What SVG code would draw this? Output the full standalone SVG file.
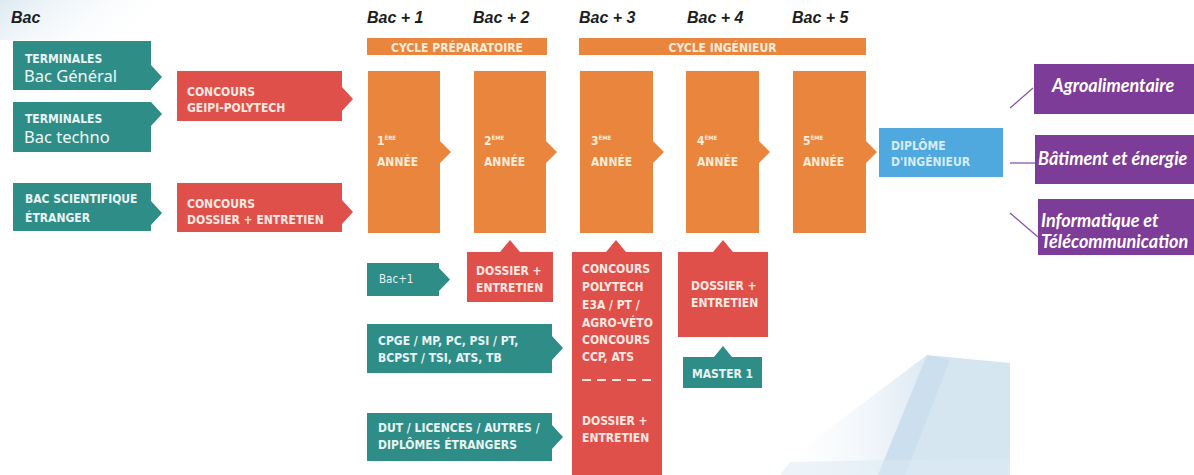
<svg xmlns="http://www.w3.org/2000/svg" width="1194" height="475" viewBox="0 0 1194 475">
<style>
.bg{fill:#ffffff}
.teal{fill:#2f8d88}
.red{fill:#e0504a}
.orange{fill:#e9853d}
.blue{fill:#4fa9df}
.purple{fill:#7d3c98}
.t{font-family:"DejaVu Sans Condensed","DejaVu Sans",sans-serif;font-weight:bold;font-size:12px;font-stretch:condensed}
.tw{fill:#e8f4f3}
.tr{fill:#fde8e2}
.to{fill:#fdecd8}
.tb{fill:#d6ecfa}
.big{font-family:"Noto Sans","Open Sans",sans-serif;font-weight:normal;font-size:16.5px;fill:#eef7f6}
.reg{font-family:"DejaVu Sans Condensed","DejaVu Sans",sans-serif;font-weight:normal;font-size:11.5px;font-stretch:condensed;fill:#e8f4f3}
.head{font-family:"Liberation Sans",Arial,sans-serif;font-weight:bold;font-style:italic;font-size:16px;fill:#1e1e1e}
.sp{font-family:"Lato","Open Sans",sans-serif;font-weight:bold;font-style:italic;font-size:18px;fill:#ffffff}
.sup{font-size:6px}
.conn{stroke:#8c55aa;stroke-width:1.3;fill:none}
</style>
<defs>
<linearGradient id="fadeTL" x1="0" y1="0" x2="1" y2="0.3">
<stop offset="0" stop-color="#d9e7f1" stop-opacity="0.9"/>
<stop offset="1" stop-color="#ffffff" stop-opacity="0"/>
</linearGradient>
<linearGradient id="fadeBR" x1="0" y1="0" x2="1" y2="0">
<stop offset="0" stop-color="#ffffff" stop-opacity="0"/>
<stop offset="1" stop-color="#dce9f3" stop-opacity="1"/>
</linearGradient>
</defs>
<rect class="bg" x="0" y="0" width="1194" height="475"/>
<g id="decor">
<polygon points="0,0 175,0 120,40 0,40" fill="url(#fadeTL)"/>
<polygon points="927,355 767,475 880,475" fill="url(#fadeBR)"/>
<polygon points="927,355 1010,363 1010,475 878,475" fill="#d6e6f1"/>
<polygon points="927,355 950,360 905,475 878,475" fill="#c7dcec" opacity="0.7"/>
<polygon points="790,462 1010,458 1010,475 780,475" fill="#dbe9f3" opacity="0.5"/>
</g>
<g id="headers">
<text class="head" x="11" y="23">Bac</text>
<text class="head" x="367" y="23">Bac + 1</text>
<text class="head" x="473" y="23">Bac + 2</text>
<text class="head" x="579" y="23">Bac + 3</text>
<text class="head" x="687" y="23">Bac + 4</text>
<text class="head" x="792" y="23">Bac + 5</text>
</g>
<g id="cycle-preparatoire">
<rect class="orange" x="367" y="38" width="180" height="17"/>
<text class="t to" x="457" y="51.5" text-anchor="middle" font-size="13">CYCLE PRÉPARATOIRE</text>
</g>
<g id="cycle-ingenieur">
<rect class="orange" x="579" y="38" width="287" height="17"/>
<text class="t to" x="722.5" y="51.5" text-anchor="middle" font-size="13">CYCLE INGÉNIEUR</text>
</g>
<g id="terminales-general">
<path class="teal" d="M13,41 H151 V65 L162,77 L151,89 V90 H13 Z"/>
<text class="t tw" x="25" y="63" font-size="11">TERMINALES</text>
<text class="big" x="24" y="82">Bac Général</text>
</g>
<g id="terminales-techno">
<path class="teal" d="M13,102 H151 L162,114 L151,126 V152 H13 Z"/>
<text class="t tw" x="25" y="123" font-size="11">TERMINALES</text>
<text class="big" x="24" y="143">Bac techno</text>
</g>
<g id="bac-scientifique">
<path class="teal" d="M13,183 H151 V201 L162,213 L151,225 V231 H13 Z"/>
<text class="t tw" x="25" y="203" font-size="11">BAC SCIENTIFIQUE</text>
<text class="t tw" x="25" y="222" font-size="11">ÉTRANGER</text>
</g>
<g id="concours-geipi">
<path class="red" d="M177,71 H342 V87 L353,99 L342,111 V121 H177 Z"/>
<text class="t tr" x="187" y="96">CONCOURS</text>
<text class="t tr" x="187" y="112">GEIPI-POLYTECH</text>
</g>
<g id="concours-dossier">
<path class="red" d="M177,183 H342 V200 L353,212 L342,224 V232 H177 Z"/>
<text class="t tr" x="187" y="208">CONCOURS</text>
<text class="t tr" x="187" y="224">DOSSIER + ENTRETIEN</text>
</g>
<g id="annee-1">
<path class="orange" d="M368,71 H440 V141 L451,152 L440,163 V233 H368 Z"/>
<text class="t to" x="377" y="145">1<tspan class="sup" dy="-5">ÈRE</tspan></text>
<text class="t to" x="377" y="166">ANNÉE</text>
</g>
<g id="annee-2">
<path class="orange" d="M474,71 H546 V141 L557,152 L546,163 V233 H474 Z"/>
<text class="t to" x="484" y="145">2<tspan class="sup" dy="-5">ÈME</tspan></text>
<text class="t to" x="484" y="166">ANNÉE</text>
</g>
<g id="annee-3">
<path class="orange" d="M580,71 H653 V141 L664,152 L653,163 V233 H580 Z"/>
<text class="t to" x="591" y="145">3<tspan class="sup" dy="-5">ÈME</tspan></text>
<text class="t to" x="591" y="166">ANNÉE</text>
</g>
<g id="annee-4">
<path class="orange" d="M686,71 H759 V141 L770,152 L759,163 V233 H686 Z"/>
<text class="t to" x="697" y="145">4<tspan class="sup" dy="-5">ÈME</tspan></text>
<text class="t to" x="697" y="166">ANNÉE</text>
</g>
<g id="annee-5">
<path class="orange" d="M793,71 H866 V141 L877,152 L866,163 V233 H793 Z"/>
<text class="t to" x="803" y="145">5<tspan class="sup" dy="-5">ÈME</tspan></text>
<text class="t to" x="803" y="166">ANNÉE</text>
</g>
<g id="diplome">
<rect class="blue" x="879" y="128" width="124" height="49"/>
<text class="t tb" x="891" y="150" font-size="11">DIPLÔME</text>
<text class="t tb" x="891" y="166" font-size="11">D'INGÉNIEUR</text>
</g>
<g id="bac1">
<path class="teal" d="M367,263 H439 V268 L450,279.5 L439,291 V296 H367 Z"/>
<text class="reg" x="379" y="283">Bac+1</text>
</g>
<g id="cpge">
<path class="teal" d="M367,324 H552 V336 L563,348 L552,360 V373 H367 Z"/>
<text class="t tw" x="378" y="345">CPGE / MP, PC, PSI / PT,</text>
<text class="t tw" x="378" y="362">BCPST / TSI, ATS, TB</text>
</g>
<g id="dut">
<path class="teal" d="M367,413 H552 V425 L563,437 L552,449 V461 H367 Z"/>
<text class="t tw" x="378" y="432">DUT / LICENCES / AUTRES /</text>
<text class="t tw" x="378" y="449">DIPLÔMES ÉTRANGERS</text>
</g>
<g id="dossier-bac2">
<path class="red" d="M467,252 H500 L510,240 L520,252 H553 V302 H467 Z"/>
<text class="t tr" x="476" y="275">DOSSIER +</text>
<text class="t tr" x="476" y="292">ENTRETIEN</text>
</g>
<g id="concours-bac3">
<path class="red" d="M572,252 H606 L616,240 L626,252 H662 V475 H572 Z"/>
<text class="t tr" x="582" y="273">CONCOURS</text>
<text class="t tr" x="582" y="291">POLYTECH</text>
<text class="t tr" x="582" y="309">E3A / PT /</text>
<text class="t tr" x="582" y="327">AGRO-VÉTO</text>
<text class="t tr" x="582" y="344">CONCOURS</text>
<text class="t tr" x="582" y="361">CCP, ATS</text>
<line x1="582" y1="380" x2="654" y2="380" stroke="#fde8e2" stroke-width="2" stroke-dasharray="9,6"/>
<text class="t tr" x="582" y="425">DOSSIER +</text>
<text class="t tr" x="582" y="442">ENTRETIEN</text>
</g>
<g id="dossier-bac4">
<path class="red" d="M678,252 H713 L723,240 L733,252 H768 V337 H678 Z"/>
<text class="t tr" x="691" y="290">DOSSIER +</text>
<text class="t tr" x="691" y="307">ENTRETIEN</text>
</g>
<g id="master1">
<path class="teal" d="M683,357 H714 L723,346 L732,357 H762 V388 H683 Z"/>
<text class="t tw" x="722.5" y="378" text-anchor="middle">MASTER 1</text>
</g>
<g id="agroalimentaire">
<rect class="purple" x="1034" y="64" width="160" height="50"/>
<text class="sp" x="1052" y="92">Agroalimentaire</text>
</g>
<g id="batiment">
<rect class="purple" x="1035" y="135" width="159" height="49"/>
<text class="sp" x="1038" y="165">Bâtiment et énergie</text>
</g>
<g id="informatique">
<rect class="purple" x="1038" y="199" width="156" height="56"/>
<text class="sp" x="1041" y="227">Informatique et</text>
<text class="sp" x="1041" y="248">Télécommunication</text>
</g>
<g id="connectors">
<line class="conn" x1="1010" y1="108" x2="1033" y2="88"/>
<line class="conn" x1="1010" y1="163" x2="1035" y2="163"/>
<line class="conn" x1="1010" y1="213" x2="1038" y2="237"/>
</g>
</svg>
